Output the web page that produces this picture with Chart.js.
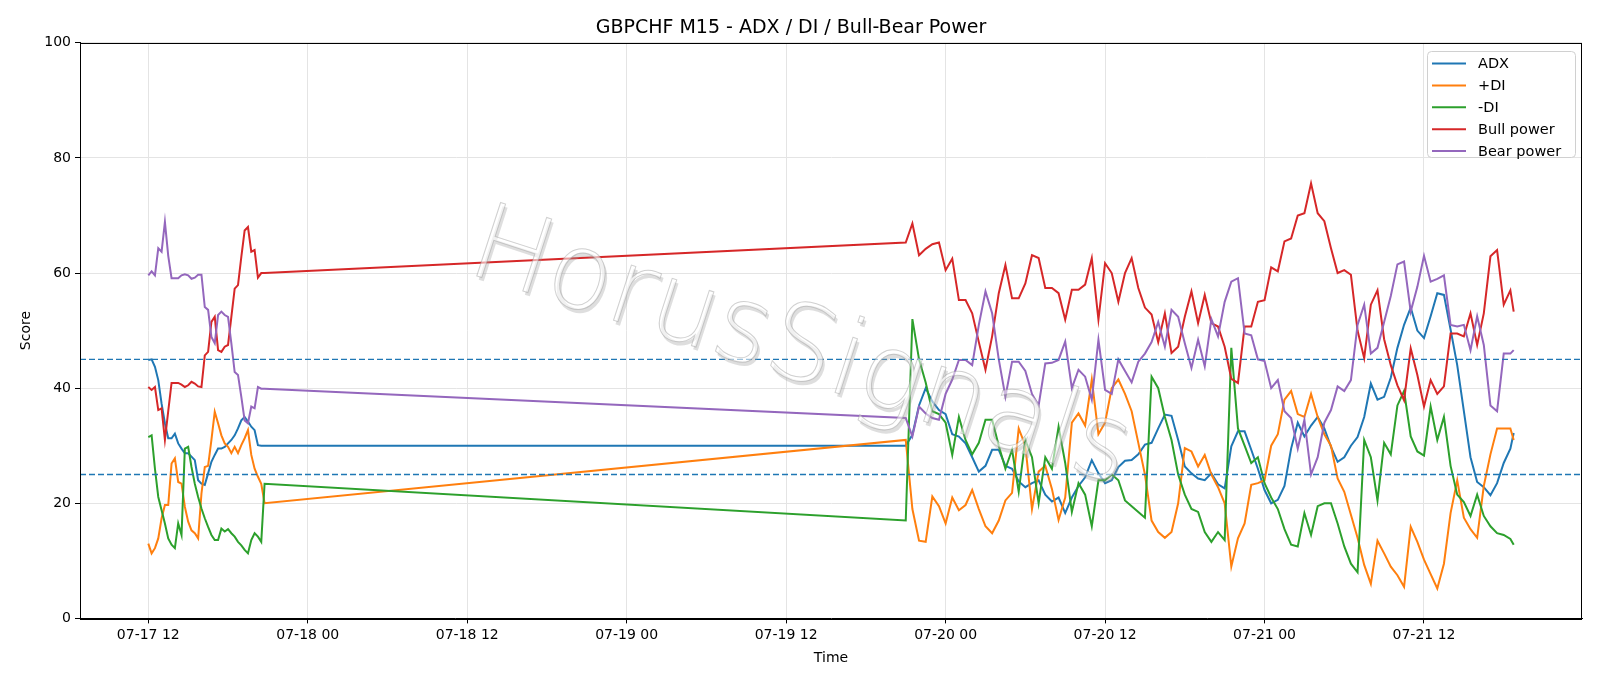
<!DOCTYPE html>
<html>
<head>
<meta charset="utf-8">
<title>GBPCHF M15 - ADX / DI / Bull-Bear Power</title>
<script src="https://cdn.jsdelivr.net/npm/chart.js@4/dist/chart.umd.min.js"></script>
<style>
  html, body { margin: 0; padding: 0; background: #fff; }
  #wrap { width: 1600px; height: 686px; }
</style>
</head>
<body>
<div id="wrap"><canvas id="chart" width="1600" height="686"></canvas></div>
<script>
// time is kept in hours since 07-17 00:00
var start1 = 12;        // 07-17 12:00, M15 bars
var step1 = 0.25;
var start2 = 69;        // 07-19 21:00, read every 30 min
var step2 = 0.5;
var lastHour = 114.75;  // 07-21 18:45

var tickHours = [12, 24, 36, 48, 60, 72, 84, 96, 108];
var xMin = 6.86, xMax = 119.89;
var levels = [45, 25];

// first block (07-17)
var adx1 = [44.9, 45.0, 43.7, 41.4, 37.3, 33.9, 31.3, 31.3, 32.1, 30.4, 29.5, 28.7, 28.7, 28.1, 27.5, 24.0, 23.4, 23.2,
  25.2, 27.2, 28.4, 29.5, 29.5, 29.8, 30.4, 31.0, 31.8, 33.0, 34.4, 35.0, 34.2, 33.3, 32.7, 30.1, 30.0, 30.0];
var plusDi1 = [13.0, 11.3, 12.2, 13.9, 17.4, 19.7, 19.7, 26.9, 27.8, 23.7, 23.4, 19.4, 16.8, 15.3, 14.8, 13.9, 21.7, 26.3,
  26.5, 31.0, 35.9, 33.9, 31.8, 30.4, 29.8, 28.7, 29.8, 28.7, 30.1, 31.3, 32.7, 28.4, 26.0, 24.6, 23.4, 20.0];
var minusDi1 = [31.5, 31.8, 26.0, 21.1, 18.8, 16.5, 13.9, 12.8, 12.2, 16.5, 14.5, 29.5, 29.8, 26.3, 23.4, 21.1, 19.1, 17.4,
  15.9, 14.5, 13.6, 13.6, 15.6, 15.1, 15.5, 14.8, 14.2, 13.3, 12.7, 11.9, 11.3, 13.6, 14.8, 14.2, 13.3, 23.4];
var bull1 = [40.2, 39.7, 40.2, 36.2, 36.5, 31.0, 36.0, 40.9, 40.9, 40.9, 40.6, 40.2, 40.5, 41.1, 40.8, 40.3, 40.2, 45.7,
  46.3, 51.5, 52.4, 46.6, 46.3, 47.2, 47.5, 52.4, 57.3, 57.9, 62.8, 67.4, 68.0, 63.7, 64.0, 59.2, 60.0, 60.0];
var bear1 = [59.6, 60.3, 59.6, 64.3, 63.7, 68.9, 63.0, 59.1, 59.1, 59.1, 59.6, 59.8, 59.6, 59.0, 59.2, 59.7, 59.7, 54.1,
  53.6, 48.9, 47.8, 52.7, 53.3, 52.7, 52.4, 47.8, 42.8, 42.3, 38.5, 34.4, 33.9, 36.8, 36.5, 40.2, 39.9, 39.9];

// second block (07-19 21:00 .. 07-21 18:45)
var adx2 = [30.0, 31.9, 37.0, 40.0, 37.7, 36.2, 35.5, 32.0, 31.6, 30.4, 28.0, 25.5, 26.5, 29.3, 29.3, 26.5, 26.0, 23.8,
  22.8, 23.5, 24.0, 21.5, 20.3, 21.0, 18.3, 21.0, 23.0, 24.5, 27.5, 25.2, 23.5, 24.0, 26.3, 27.4, 27.5, 28.5, 30.2,
  30.5, 33.0, 35.4, 35.2, 31.0, 26.4, 25.2, 24.3, 24.0, 25.2, 23.3, 22.6, 29.9, 32.5, 32.5, 29.3, 26.0, 22.3, 20.0,
  20.6, 23.0, 29.5, 34.0, 31.6, 33.5, 35.0, 33.0, 29.8, 27.2, 28.0, 30.0, 31.5, 35.0, 40.8, 38.0, 38.5, 41.8, 47.0,
  51.0, 54.0, 50.0, 48.7, 52.5, 56.5, 56.2, 50.2, 44.0, 36.0, 28.0, 23.7, 22.8, 21.4, 23.5, 27.0, 29.5, 32.2];
var plusDi2 = [31.0, 19.0, 13.5, 13.3, 21.2, 19.5, 16.5, 21.0, 18.8, 19.7, 22.3, 19.0, 16.0, 14.8, 17.0, 20.5, 21.8, 33.0,
  30.0, 19.0, 25.5, 26.5, 22.5, 17.1, 21.0, 34.0, 35.6, 33.5, 41.5, 32.0, 34.0, 40.0, 41.5, 39.0, 36.0, 30.5, 25.0,
  17.0, 15.0, 14.0, 15.0, 20.0, 29.6, 29.0, 26.4, 28.4, 25.0, 22.8, 20.0, 9.0, 13.9, 16.5, 23.2, 23.5, 24.0, 30.0,
  32.0, 38.0, 39.5, 35.5, 35.0, 39.0, 35.0, 32.0, 30.0, 24.3, 22.0, 18.0, 14.0, 9.3, 6.0, 13.5, 11.3, 9.0, 7.5,
  5.5, 15.9, 13.3, 10.2, 7.7, 5.2, 9.5, 18.3, 24.0, 17.5, 15.5, 14.0, 23.0, 28.5, 33.0, 33.0, 33.0, 31.0];
var minusDi2 = [17.0, 52.0, 45.0, 41.0, 36.0, 35.5, 34.0, 28.4, 35.0, 31.0, 28.5, 30.5, 34.5, 34.5, 30.0, 26.0, 29.3, 22.0,
  31.0, 28.0, 20.0, 28.0, 26.0, 33.3, 27.0, 18.5, 23.5, 21.5, 16.0, 24.0, 24.0, 25.0, 24.0, 20.5, 19.5, 18.5, 17.5,
  42.0, 40.0, 35.0, 31.0, 25.0, 21.5, 19.0, 18.5, 15.0, 13.3, 15.0, 13.6, 47.0, 33.0, 30.0, 27.0, 28.0, 23.5, 21.0,
  19.0, 15.5, 12.8, 12.5, 18.3, 14.5, 19.5, 20.0, 20.0, 16.5, 12.5, 9.5, 8.0, 31.0, 28.0, 20.5, 30.5, 28.5, 37.0,
  39.5, 31.6, 29.0, 28.3, 36.8, 31.0, 35.0, 26.5, 21.5, 20.2, 17.8, 21.5, 17.8, 16.0, 14.8, 14.5, 13.8, 12.8];
var bull2 = [65.3, 68.6, 63.1, 64.2, 65.0, 65.3, 60.5, 62.5, 55.3, 55.3, 53.0, 48.0, 43.2, 49.0, 56.5, 61.4, 55.6, 55.6,
  58.2, 63.1, 62.6, 57.4, 57.4, 56.5, 51.9, 57.1, 57.1, 58.0, 62.6, 51.9, 61.7, 60.0, 55.0, 60.0, 62.6, 57.4, 54.0,
  52.8, 48.0, 53.0, 46.1, 47.2, 52.4, 56.8, 51.3, 56.2, 51.3, 50.7, 47.2, 41.6, 40.9, 50.7, 50.7, 55.0, 55.3, 61.0,
  60.3, 65.5, 66.0, 70.0, 70.4, 75.6, 70.4, 69.0, 64.3, 60.0, 60.5, 59.7, 50.0, 45.2, 54.5, 57.0, 48.5, 44.0, 40.5,
  37.9, 46.9, 42.3, 36.8, 41.4, 39.0, 40.3, 49.5, 49.5, 49.0, 53.0, 47.5, 53.0, 62.9, 64.0, 54.5, 57.0, 53.3];
var bear2 = [34.8, 31.6, 36.8, 35.6, 34.8, 34.5, 39.0, 41.5, 44.9, 44.9, 44.0, 51.0, 56.8, 53.0, 45.0, 38.5, 44.6, 44.6,
  43.0, 39.0, 37.0, 44.3, 44.4, 44.9, 48.1, 40.0, 43.2, 42.0, 38.0, 48.4, 39.7, 39.0, 45.0, 43.0, 41.0, 44.6, 46.0,
  48.0, 51.5, 47.2, 53.6, 52.4, 47.8, 43.5, 48.4, 43.8, 52.0, 49.0, 55.0, 58.5, 59.1, 49.5, 49.2, 45.0, 44.7, 40.0,
  41.4, 36.0, 34.8, 29.5, 34.5, 25.0, 28.0, 34.0, 36.2, 40.3, 39.5, 41.4, 51.0, 54.5, 46.0, 47.0, 51.5, 56.0, 61.5,
  62.0, 53.3, 57.6, 63.0, 58.5, 59.0, 59.6, 51.0, 50.7, 51.0, 46.6, 52.5, 47.5, 37.0, 36.0, 46.0, 46.0, 46.6];

var hours1 = adx1.map(function (v, i) { return start1 + i * step1; });
var hours2 = adx2.map(function (v, i) { return i < adx2.length - 1 ? start2 + i * step2 : lastHour; });

var FONT = '"DejaVu Sans", "Liberation Sans", sans-serif';
Chart.defaults.font.family = FONT;
Chart.defaults.color = '#000';

function series(a, b) {
  var pts = [];
  a.forEach(function (v, i) { pts.push({ x: hours1[i], y: v }); });
  b.forEach(function (v, i) { pts.push({ x: hours2[i], y: v }); });
  return pts;
}

function line(label, color, a, b, order) {
  return {
    label: label, data: series(a, b), borderColor: color, backgroundColor: color,
    borderWidth: 2, pointRadius: 0, tension: 0, order: order
  };
}

function level(v) {
  return {
    label: '', data: [{ x: xMin, y: v }, { x: xMax, y: v }], borderColor: '#1f77b4',
    borderWidth: 1.4, borderDash: [6, 3], pointRadius: 0, order: 0
  };
}

function tickText(v) {
  var day = 17 + Math.floor(v / 24);
  var h = v % 24;
  return '07-' + day + ' ' + (h < 10 ? '0' + h : '' + h);
}

// black box round the plot
var frame = {
  id: 'frame',
  afterDatasetsDraw: function (chart) {
    var a = chart.chartArea, ctx = chart.ctx;
    ctx.save();
    ctx.strokeStyle = '#000';
    ctx.lineWidth = 1;
    ctx.strokeRect(Math.round(a.left) + 0.5, Math.round(a.top) + 0.5,
      Math.round(a.right - a.left) - 1, Math.round(a.bottom - a.top));
    ctx.restore();
  }
};

// faint "HorusSignals" mark across the middle
var watermark = {
  id: 'watermark',
  afterDatasetsDraw: function (chart) {
    var ctx = chart.ctx;
    ctx.save();
    ctx.translate(800, 352);
    ctx.rotate(18 * Math.PI / 180);
    ctx.font = '200 106px ' + FONT;
    ctx.textAlign = 'center';
    ctx.textBaseline = 'middle';
    ctx.fillStyle = 'rgba(160,160,160,0.35)';
    ctx.fillText('HorusSignals', 3, 3);
    ctx.fillStyle = 'rgba(255,255,255,0.55)';
    ctx.fillText('HorusSignals', 0, 0);
    ctx.strokeStyle = 'rgba(150,150,150,0.45)';
    ctx.lineWidth = 1;
    ctx.strokeText('HorusSignals', 0, 0);
    ctx.restore();
  }
};

var legendBox = {
  id: 'legendBox',
  afterDraw: function (chart) {
    var ctx = chart.ctx;
    var items = chart.data.datasets.filter(function (d) { return d.label; });
    ctx.save();
    ctx.beginPath();
    ctx.roundRect(1427.5, 51.5, 148, 106, 4);
    ctx.fillStyle = 'rgba(255,255,255,0.8)';
    ctx.fill();
    ctx.strokeStyle = '#d0d0d0';
    ctx.lineWidth = 1;
    ctx.stroke();
    ctx.font = '14.5px ' + FONT;
    ctx.textBaseline = 'middle';
    items.forEach(function (d, i) {
      var y = 63.5 + i * 21.9;
      ctx.strokeStyle = d.borderColor;
      ctx.lineWidth = 2;
      ctx.beginPath();
      ctx.moveTo(1432, y);
      ctx.lineTo(1466, y);
      ctx.stroke();
      ctx.fillStyle = '#000';
      ctx.fillText(d.label, 1478, y + 1);
    });
    ctx.restore();
  }
};

var gridColor = '#e4e4e4';

new Chart(document.getElementById('chart'), {
  type: 'line',
  data: {
    datasets: [
      line('ADX', '#1f77b4', adx1, adx2, 5),
      line('+DI', '#ff7f0e', plusDi1, plusDi2, 4),
      line('-DI', '#2ca02c', minusDi1, minusDi2, 3),
      line('Bull power', '#d62728', bull1, bull2, 2),
      line('Bear power', '#9467bd', bear1, bear2, 1),
      level(levels[0]),
      level(levels[1])
    ]
  },
  options: {
    responsive: false,
    animation: false,
    devicePixelRatio: 1,
    layout: { padding: { left: 0, right: 18, top: 0, bottom: 0 } },
    plugins: {
      legend: { display: false },
      tooltip: { enabled: false },
      title: {
        display: true,
        text: 'GBPCHF M15 - ADX / DI / Bull-Bear Power',
        font: { size: 19, weight: 'normal' },
        color: '#000',
        padding: { top: 17, bottom: 3 }
      }
    },
    scales: {
      x: {
        type: 'linear',
        min: xMin,
        max: xMax,
        afterBuildTicks: function (axis) {
          axis.ticks = tickHours.map(function (v) { return { value: v }; });
        },
        afterFit: function (scale) { scale.height = 67.6; },
        ticks: {
          callback: function (v) { return tickText(v); },
          font: { size: 14 },
          color: '#000',
          padding: 4,
          maxRotation: 0,
          autoSkip: false
        },
        grid: { color: gridColor, lineWidth: 1, tickLength: 5, tickColor: '#000', drawTicks: true },
        border: { display: true, color: '#000', width: 1 },
        title: { display: true, text: 'Time', font: { size: 14 }, color: '#000', padding: { top: 0, bottom: 19 } }
      },
      y: {
        min: 0,
        max: 100,
        afterFit: function (scale) { scale.width = 80; },
        ticks: { stepSize: 20, font: { size: 14 }, color: '#000', padding: 4 },
        grid: { color: gridColor, lineWidth: 1, tickLength: 5, tickColor: '#000', drawTicks: true },
        border: { display: true, color: '#000', width: 1 },
        title: { display: true, text: 'Score', font: { size: 14 }, color: '#000', padding: { top: 18, bottom: 0 } }
      }
    }
  },
  plugins: [frame, watermark, legendBox]
});
</script>
</body>
</html>
